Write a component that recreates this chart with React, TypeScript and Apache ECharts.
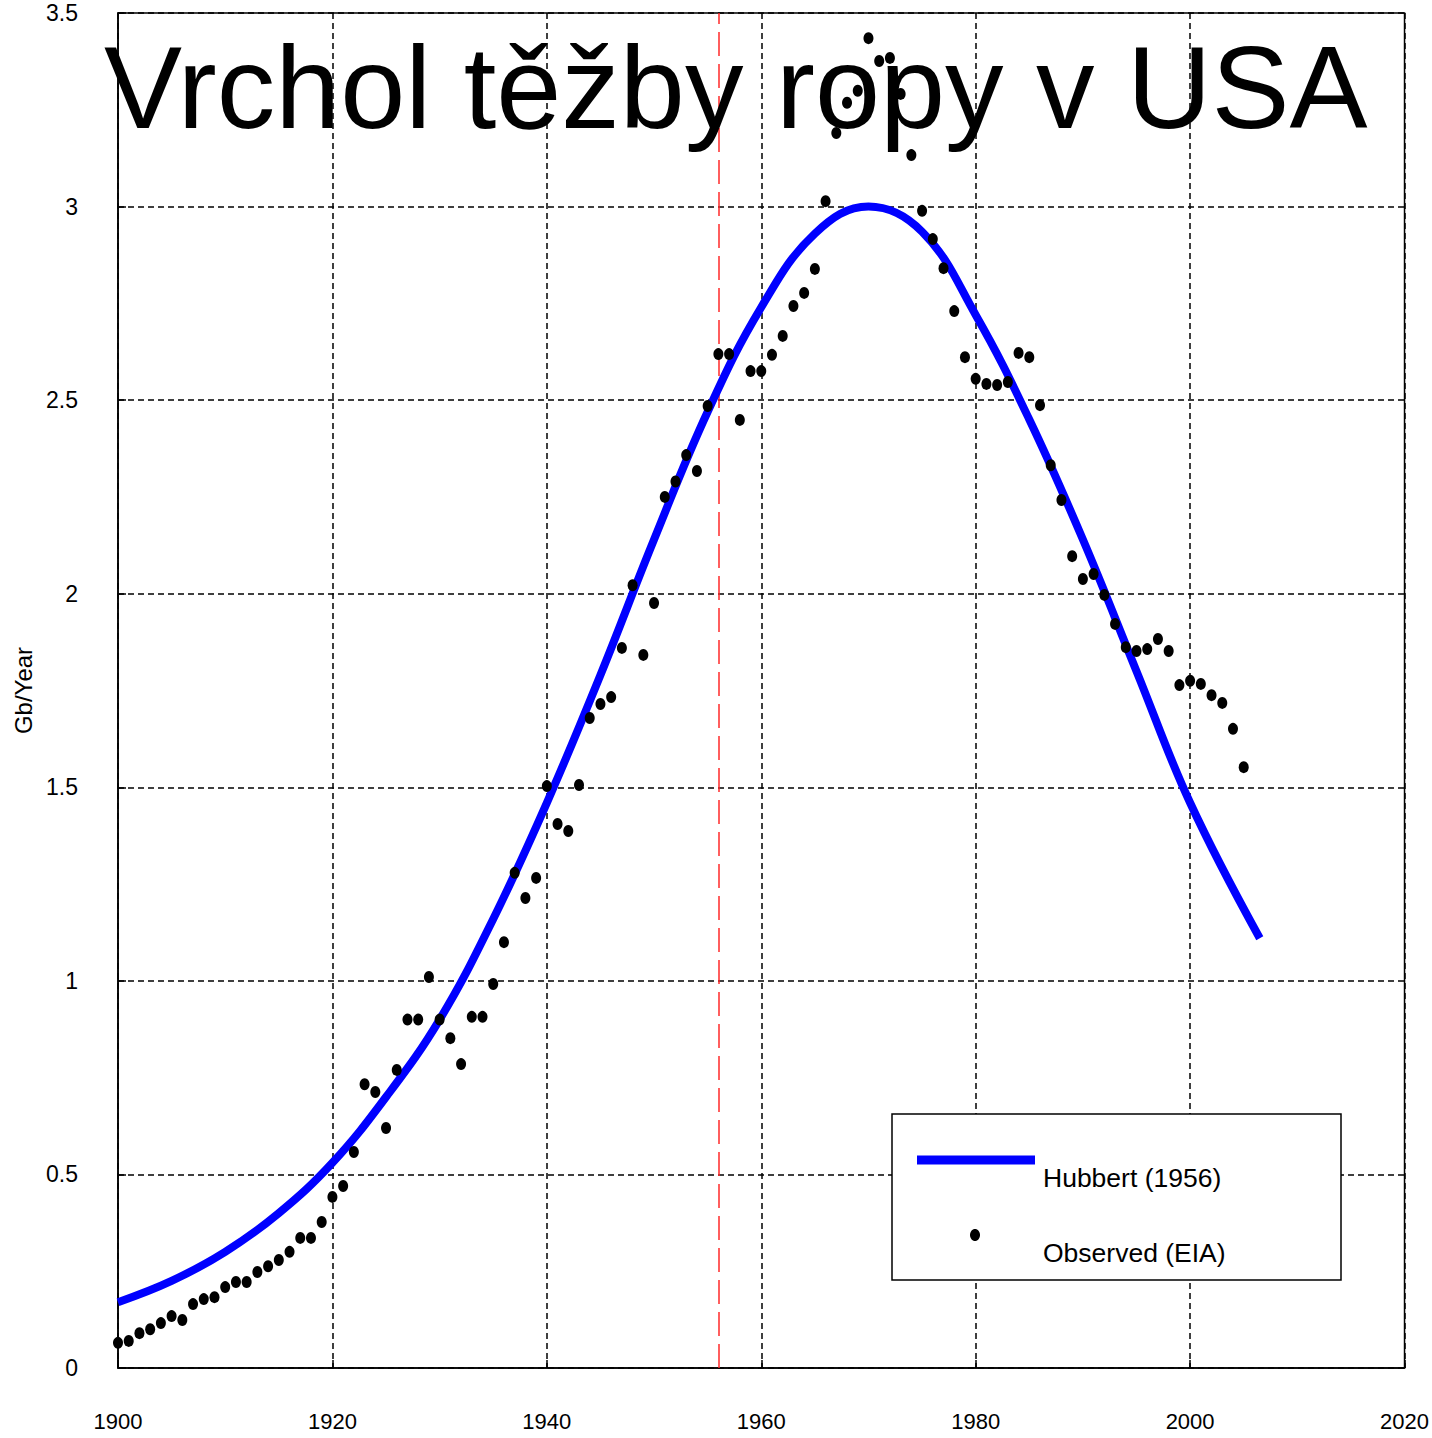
import React, { useEffect, useRef } from "react";
import * as echarts from "echarts";

const titleText = "Vrchol těžby ropy v USA";
const yAxisName = "Gb/Year";
const hubbertName = "Hubbert (1956)";
const observedName = "Observed (EIA)";

const xTicks = [1900, 1920, 1940, 1960, 1980, 2000, 2020];
const yTicks = [0, 0.5, 1, 1.5, 2, 2.5, 3, 3.5];

const hubbertYears = [1900, 1905, 1910, 1915, 1920, 1925, 1930, 1935, 1940, 1945, 1950, 1955, 1960, 1965, 1970, 1975, 1980, 1985, 1990, 1995, 2000, 2006.5];
const hubbertValues = [0.17, 0.225, 0.3, 0.4, 0.53, 0.7, 0.9, 1.16, 1.46, 1.79, 2.14, 2.47, 2.74, 2.93, 3.0, 2.935, 2.72, 2.45, 2.14, 1.8, 1.46, 1.11];

const observedStartYear = 1900;
const observedValues = [
  0.065, 0.07, 0.09, 0.1, 0.116, 0.134, 0.124, 0.165, 0.178, 0.183,
  0.209, 0.222, 0.222, 0.248, 0.263, 0.279, 0.3, 0.336, 0.336, 0.377,
  0.442, 0.47, 0.558, 0.733, 0.713, 0.62, 0.77, 0.9, 0.9, 1.01,
  0.9, 0.852, 0.785, 0.907, 0.907, 0.992, 1.1, 1.279, 1.214, 1.266,
  1.503, 1.405, 1.387, 1.506, 1.679, 1.715, 1.733, 1.86, 2.022, 1.842,
  1.976, 2.25, 2.29, 2.358, 2.317, 2.485, 2.619, 2.619, 2.449, 2.575,
  2.575, 2.617, 2.666, 2.743, 2.777, 2.839, 3.014, 3.19, 3.268, 3.299,
  3.435, 3.376, 3.384, 3.291, 3.133, 2.989, 2.916, 2.841, 2.73, 2.611,
  2.555, 2.542, 2.539, 2.547, 2.622, 2.611, 2.487, 2.332, 2.242, 2.097,
  2.038, 2.051, 1.997, 1.922, 1.862, 1.852, 1.857, 1.883, 1.852, 1.764,
  1.775, 1.767, 1.738, 1.718, 1.651, 1.552,
];

const predictionYear = 1956;

const FONT = "'Liberation Sans', Arial, Helvetica, sans-serif";

export default function App() {
  const ref = useRef<HTMLDivElement>(null);

  useEffect(() => {
    document.body.style.margin = "0";
    if (!ref.current) return;
    const chart = echarts.init(ref.current, null, { renderer: "svg" });

    const hubbertData = hubbertYears.map((y, i) => [y, hubbertValues[i]]);
    const observedData = observedValues.map((v, i) => [observedStartYear + i, v]);

    const gridDash = { color: "#000", width: 1.5, type: [6, 4] as number[] };

    chart.setOption({
      animation: false,
      backgroundColor: "#fff",
      textStyle: { fontFamily: FONT },
      title: {
        text: titleText,
        left: 104,
        top: 29,
        padding: 0,
        z: 3,
        textStyle: { fontSize: 117, fontWeight: "normal", color: "#000", fontFamily: FONT },
      },
      grid: {
        left: 118,
        right: 16,
        top: 13,
        bottom: 70,
        show: true,
        borderColor: "#000",
        borderWidth: 1.5,
        backgroundColor: "transparent",
      },
      xAxis: {
        type: "value",
        min: xTicks[0],
        max: xTicks[xTicks.length - 1],
        interval: 20,
        axisLine: { show: true, onZero: false, lineStyle: { color: "#000", width: 1.5 } },
        axisTick: { show: true, inside: true, length: 8, lineStyle: { color: "#000", width: 1.5 } },
        axisLabel: { color: "#000", fontSize: 22, margin: 42, fontFamily: FONT, formatter: (v: number) => String(v) },
        splitLine: { show: true, lineStyle: gridDash },
      },
      yAxis: {
        type: "value",
        min: yTicks[0],
        max: yTicks[yTicks.length - 1],
        interval: 0.5,
        name: yAxisName,
        nameLocation: "middle",
        nameGap: 76,
        nameRotate: 90,
        nameTextStyle: { color: "#000", fontSize: 24, fontFamily: FONT },
        axisLine: { show: true, lineStyle: { color: "#000", width: 1.5 } },
        axisTick: { show: true, inside: true, length: 8, lineStyle: { color: "#000", width: 1.5 } },
        axisLabel: { color: "#000", fontSize: 23, margin: 40, padding: [14, 0, 0, 0], fontFamily: FONT },
        splitLine: { show: true, lineStyle: gridDash },
      },
      series: [
        {
          name: hubbertName,
          type: "line",
          data: hubbertData,
          smooth: 0.4,
          showSymbol: false,
          symbol: "none",
          z: 4,
          lineStyle: { color: "#0000ff", width: 8, cap: "butt" },
          markLine: {
            silent: true,
            symbol: "none",
            label: { show: false },
            lineStyle: { color: "#ff2a2a", width: 1.5, type: [24, 8] },
            data: [{ xAxis: predictionYear }],
            z: 3,
          },
        },
        {
          name: observedName,
          type: "scatter",
          data: observedData,
          symbol: "circle",
          symbolSize: [10, 12],
          z: 6,
          itemStyle: { color: "#000", opacity: 1 },
        },
      ],
      graphic: [
        {
          type: "group",
          z: 100,
          children: [
            {
              type: "rect",
              shape: { x: 892, y: 1114, width: 449, height: 166 },
              style: { fill: "#fff", stroke: "#000", lineWidth: 1.5 },
              z: 100,
            },
            {
              type: "line",
              shape: { x1: 917, y1: 1160, x2: 1035, y2: 1160 },
              style: { stroke: "#0000ff", lineWidth: 9 },
              z: 101,
            },
            {
              type: "ellipse",
              shape: { cx: 975, cy: 1235, rx: 5, ry: 6 },
              style: { fill: "#000" },
              z: 101,
            },
            {
              type: "text",
              x: 1043,
              y: 1178,
              style: { text: hubbertName, fontSize: 26.5, fill: "#000", fontFamily: FONT, verticalAlign: "middle", align: "left" },
              z: 101,
            },
            {
              type: "text",
              x: 1043,
              y: 1253,
              style: { text: observedName, fontSize: 26.5, fill: "#000", fontFamily: FONT, verticalAlign: "middle", align: "left" },
              z: 101,
            },
          ],
        },
      ],
    });

    return () => {
      chart.dispose();
    };
  }, []);

  return <div ref={ref} style={{ width: 1432, height: 1438 }} />;
}
